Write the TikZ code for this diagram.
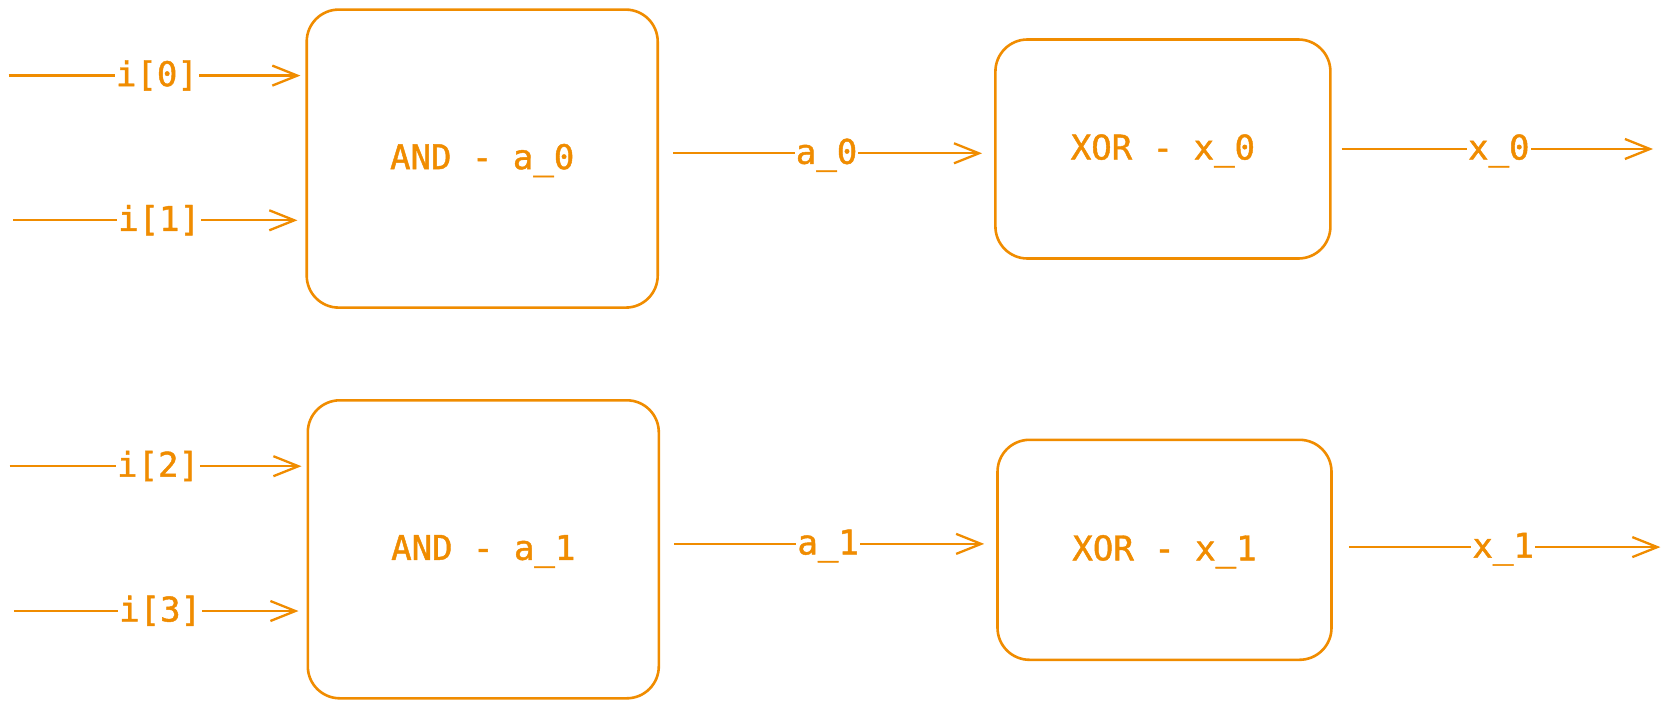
\documentclass[tikz,border=0pt]{standalone}
\usepackage{fontspec}
\newfontfamily\wirefont{DejaVu Sans Mono}[FakeBold=1.3]
\usepackage{xcolor}
\usetikzlibrary{arrows.meta,positioning}
\definecolor{wireorange}{HTML}{F08C00}

\begin{document}
\begin{tikzpicture}[x=1pt,y=-1pt,font=\wirefont\fontsize{34}{40}\selectfont,
  gate/.style={draw=wireorange,line width=2.6pt,rounded corners=32pt,text=wireorange,fill=white,text height=26pt,text depth=5pt},
  arr/.style={draw=wireorange,line width=2.3pt,-{Straight Barb[length=25pt,width=20pt,line width=2.3pt]}},
  lbl/.style={fill=white,text=wireorange,inner xsep=1pt,inner ysep=0pt,text height=26pt,text depth=5pt}]
  \useasboundingbox (0,0) rectangle (1669,709);
  \node[gate,minimum width=351pt,minimum height=298pt](and0) at (482.2,158.6){AND - a\_0};
  \node[gate,minimum width=335pt,minimum height=219pt](xor0) at (1162.9,149){XOR - x\_0};
  \node[gate,minimum width=351pt,minimum height=298pt](and1) at (483.3,549.3){AND - a\_1};
  \node[gate,minimum width=334pt,minimum height=220pt](xor1) at (1164.5,549.8){XOR - x\_1};
  \coordinate (in0) at (8.5,75.6);
  \coordinate (in1) at (12.8,220.3);
  \coordinate (in2) at (9.6,466.2);
  \coordinate (in3) at (13.8,611);
  \coordinate (out0) at (1653,149);
  \coordinate (out1) at (1660.4,547.1);
  \draw[arr,shorten >=5pt](in0)--node[lbl]{i[0]}(and0.west |- in0);
  \draw[arr,shorten >=8pt](in1)--node[lbl]{i[1]}(and0.west |- in1);
  \draw[arr,shorten >=5pt](in2)--node[lbl]{i[2]}(and1.west |- in2);
  \draw[arr,shorten >=8pt](in3)--node[lbl]{i[3]}(and1.west |- in3);
  \draw[arr,shorten <=14pt,shorten >=12pt](and0.east |- 0,153.3)--node[lbl]{a\_0}(xor0.west |- 0,153.3);
  \draw[arr,shorten <=14pt,shorten >=12pt](and1.east |- 0,543.9)--node[lbl]{a\_1}(xor1.west |- 0,543.9);
  \draw[arr,shorten <=10pt](xor0.east |- out0)--node[lbl,pos=.52]{x\_0}(out0);
  \draw[arr,shorten <=16pt](xor1.east |- out1)--node[lbl,pos=.52]{x\_1}(out1);
\end{tikzpicture}
\end{document}
